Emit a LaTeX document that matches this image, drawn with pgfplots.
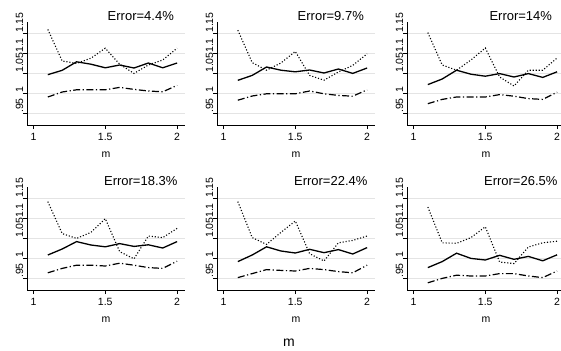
\documentclass[border=0pt]{standalone}
\usepackage{fontspec}
\setmainfont{Liberation Sans}
\usepackage{pgfplots}
\pgfplotsset{compat=1.18}
\definecolor{gridgray}{RGB}{228,228,228}
\tikzset{errtitle/.style={font=\fontsize{13bp}{15bp}\selectfont, anchor=base},
  sol/.style={black, solid, line width=1.3bp},
  dot/.style={black, line width=1.1bp, dash pattern=on 1.1bp off 1.9bp},
  dd/.style={black, line width=1.2bp, dash pattern=on 7bp off 2.5bp on 1.2bp off 2.5bp}}
\pgfplotsset{
  panel/.style={
    scale only axis, width=158bp, height=103bp,
    xmin=0.955, xmax=2.055, ymin=0.92, ymax=1.1775,
    axis lines*=left,
    axis line style={black, line width=0.7bp, -},
    xtick={1,1.5,2}, xticklabels={1,1.5,2},
    ytick={0.95,1,1.05,1.1,1.15}, yticklabels={.95,1,1.05,1.1,1.15},
    tick align=outside, major tick length=4bp,
    tick style={black, line width=0.7bp},
    ymajorgrids, grid style={gridgray, line width=1bp},
    /pgf/number format/assume math mode=true,
    ticklabel style={font=\fontsize{10.5bp}{12bp}\selectfont},
    xticklabel style={yshift=-1bp},
    yticklabel style={rotate=90, anchor=base west, inner sep=0pt},
    xlabel={m},
    xlabel style={font=\fontsize{10.5bp}{12bp}\selectfont, at={(axis description cs:0.5,0)}, anchor=center, yshift=-30bp},
    clip=false,
  },
}
\begin{document}
\begin{tikzpicture}
\useasboundingbox (0,0) rectangle (561bp,-351bp);
% Panel 1
\begin{axis}[panel, at={(27bp,-125bp)}, anchor=south west]
\addplot[sol] coordinates {(1.1,1.0458)(1.2,1.0567)(1.3,1.078)(1.4,1.072)(1.5,1.063)(1.6,1.07)(1.7,1.0625)(1.8,1.075)(1.9,1.063)(2.0,1.075)};
\addplot[dot] coordinates {(1.1,1.159)(1.2,1.08)(1.3,1.074)(1.4,1.087)(1.5,1.112)(1.6,1.072)(1.7,1.049)(1.8,1.07)(1.9,1.0825)(2.0,1.112)};
\addplot[dd] coordinates {(1.1,0.99)(1.2,1.0025)(1.3,1.008)(1.4,1.008)(1.5,1.008)(1.6,1.014)(1.7,1.009)(1.8,1.005)(1.9,1.003)(2.0,1.019)};
\node[errtitle] at (rel axis cs:0.72,1) [yshift=2bp] {Error=4.4\%};
\end{axis}
% Panel 2
\begin{axis}[panel, at={(217bp,-125bp)}, anchor=south west]
\addplot[sol] coordinates {(1.1,1.0317)(1.2,1.044)(1.3,1.065)(1.4,1.057)(1.5,1.053)(1.6,1.0575)(1.7,1.05)(1.8,1.06)(1.9,1.049)(2.0,1.0625)};
\addplot[dot] coordinates {(1.1,1.157)(1.2,1.076)(1.3,1.057)(1.4,1.075)(1.5,1.104)(1.6,1.044)(1.7,1.032)(1.8,1.0525)(1.9,1.069)(2.0,1.098)};
\addplot[dd] coordinates {(1.1,0.982)(1.2,0.9925)(1.3,0.998)(1.4,0.998)(1.5,0.998)(1.6,1.005)(1.7,0.998)(1.8,0.994)(1.9,0.992)(2.0,1.008)};
\node[errtitle] at (rel axis cs:0.72,1) [yshift=2bp] {Error=9.7\%};
\end{axis}
% Panel 3
\begin{axis}[panel, at={(407bp,-125bp)}, anchor=south west]
\addplot[sol] coordinates {(1.1,1.021)(1.2,1.035)(1.3,1.057)(1.4,1.047)(1.5,1.042)(1.6,1.0485)(1.7,1.04)(1.8,1.0485)(1.9,1.039)(2.0,1.053)};
\addplot[dot] coordinates {(1.1,1.151)(1.2,1.07)(1.3,1.057)(1.4,1.0825)(1.5,1.1125)(1.6,1.04)(1.7,1.0175)(1.8,1.057)(1.9,1.057)(2.0,1.0875)};
\addplot[dd] coordinates {(1.1,0.9733)(1.2,0.984)(1.3,0.99)(1.4,0.99)(1.5,0.99)(1.6,0.996)(1.7,0.992)(1.8,0.986)(1.9,0.984)(2.0,1.002)};
\node[errtitle] at (rel axis cs:0.72,1) [yshift=2bp] {Error=14\%};
\end{axis}
% Panel 4
\begin{axis}[panel, at={(27bp,-290bp)}, anchor=south west]
\addplot[sol] coordinates {(1.1,1.0075)(1.2,1.0225)(1.3,1.041)(1.4,1.0325)(1.5,1.028)(1.6,1.036)(1.7,1.029)(1.8,1.033)(1.9,1.025)(2.0,1.041)};
\addplot[dot] coordinates {(1.1,1.141)(1.2,1.061)(1.3,1.049)(1.4,1.064)(1.5,1.0983)(1.6,1.016)(1.7,0.998)(1.8,1.055)(1.9,1.051)(2.0,1.074)};
\addplot[dd] coordinates {(1.1,0.963)(1.2,0.974)(1.3,0.982)(1.4,0.982)(1.5,0.98)(1.6,0.987)(1.7,0.982)(1.8,0.976)(1.9,0.974)(2.0,0.992)};
\node[errtitle] at (rel axis cs:0.72,1) [yshift=2bp] {Error=18.3\%};
\end{axis}
% Panel 5
\begin{axis}[panel, at={(217bp,-290bp)}, anchor=south west]
\addplot[sol] coordinates {(1.1,0.991)(1.2,1.0075)(1.3,1.028)(1.4,1.0175)(1.5,1.0125)(1.6,1.0217)(1.7,1.0133)(1.8,1.021)(1.9,1.01)(2.0,1.026)};
\addplot[dot] coordinates {(1.1,1.141)(1.2,1.051)(1.3,1.034)(1.4,1.064)(1.5,1.0925)(1.6,1.0108)(1.7,0.9925)(1.8,1.038)(1.9,1.044)(2.0,1.055)};
\addplot[dd] coordinates {(1.1,0.951)(1.2,0.961)(1.3,0.971)(1.4,0.969)(1.5,0.9675)(1.6,0.974)(1.7,0.971)(1.8,0.966)(1.9,0.963)(2.0,0.982)};
\node[errtitle] at (rel axis cs:0.72,1) [yshift=2bp] {Error=22.4\%};
\end{axis}
% Panel 6
\begin{axis}[panel, at={(407bp,-290bp)}, anchor=south west]
\addplot[sol] coordinates {(1.1,0.976)(1.2,0.991)(1.3,1.012)(1.4,0.999)(1.5,0.995)(1.6,1.0067)(1.7,0.9967)(1.8,1.004)(1.9,0.993)(2.0,1.008)};
\addplot[dot] coordinates {(1.1,1.1275)(1.2,1.038)(1.3,1.0367)(1.4,1.051)(1.5,1.078)(1.6,0.99)(1.7,0.986)(1.8,1.0275)(1.9,1.038)(2.0,1.042)};
\addplot[dd] coordinates {(1.1,0.938)(1.2,0.949)(1.3,0.957)(1.4,0.955)(1.5,0.955)(1.6,0.961)(1.7,0.961)(1.8,0.955)(1.9,0.951)(2.0,0.9675)};
\node[errtitle] at (rel axis cs:0.72,1) [yshift=2bp] {Error=26.5\%};
\end{axis}
\node[font=\fontsize{14bp}{16bp}\selectfont] at (289bp,-343bp) {m};
\end{tikzpicture}
\end{document}
